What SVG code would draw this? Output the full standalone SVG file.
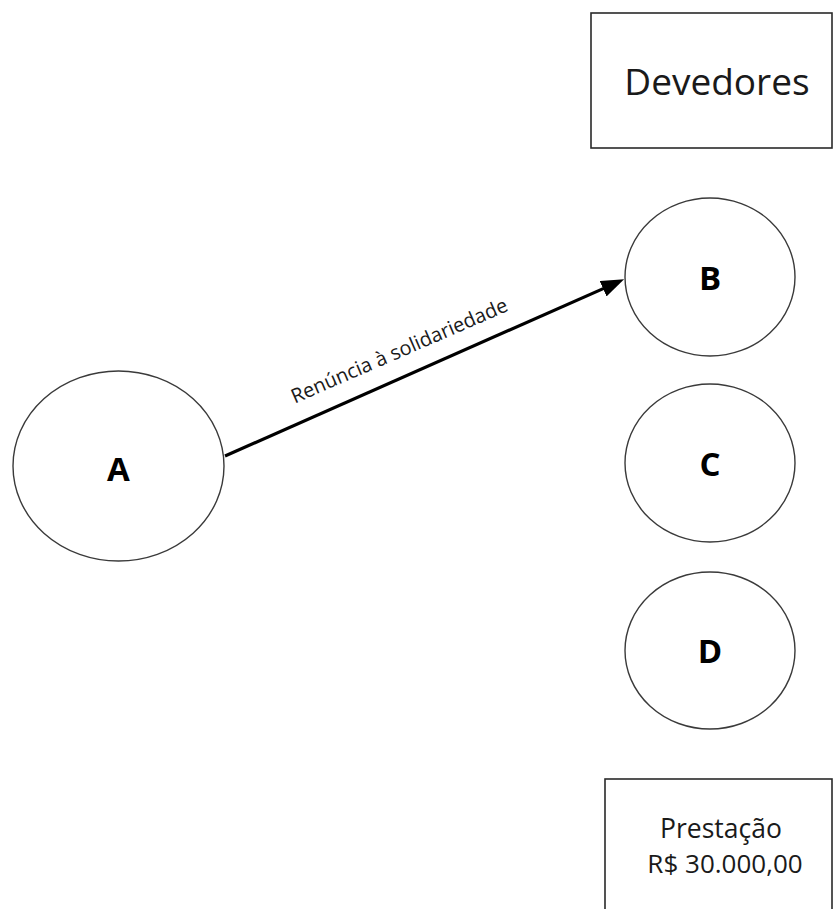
<svg xmlns="http://www.w3.org/2000/svg" width="833" height="909" viewBox="0 0 833 909">
  <style>
    .box { fill: #ffffff; stroke: #2a2a2a; stroke-width: 1.6; }
    .node { fill: #ffffff; stroke: #3a3a3a; stroke-width: 1.4; }
    .label { font-family: "Open Sans", "Liberation Sans", sans-serif; fill: #1a1a1a; text-anchor: middle; }
    .letter { font-family: "Open Sans", "Liberation Sans", sans-serif; font-weight: bold; font-size: 33px; fill: #000000; text-anchor: middle; }
    .edge { fill: none; stroke: #000000; stroke-width: 3.2; }
  </style>
  <defs>
    <marker id="arrowhead" markerUnits="userSpaceOnUse" markerWidth="23" markerHeight="17" refX="15" refY="8.5" orient="auto">
      <path d="M0,0 L23,8.5 L0,17 z" fill="#000000"/>
    </marker>
  </defs>

  <rect width="833" height="909" fill="#ffffff"/>

  <!-- header box -->
  <g id="devedores">
    <rect class="box" x="591" y="13" width="241" height="135"/>
    <text class="label" x="717" y="95" font-size="37">Devedores</text>
  </g>

  <!-- creditor -->
  <g id="node-a">
    <ellipse class="node" cx="118.5" cy="466" rx="105.5" ry="95"/>
    <text class="letter" x="118.5" y="481">A</text>
  </g>

  <!-- debtors -->
  <g id="node-b">
    <ellipse class="node" cx="710" cy="277" rx="85" ry="79"/>
    <text class="letter" x="710" y="290">B</text>
  </g>
  <g id="node-c">
    <ellipse class="node" cx="710" cy="463" rx="85" ry="79"/>
    <text class="letter" x="710" y="476">C</text>
  </g>
  <g id="node-d">
    <ellipse class="node" cx="710" cy="650.5" rx="85" ry="78.5"/>
    <text class="letter" x="710" y="663">D</text>
  </g>

  <!-- amount box -->
  <g id="prestacao">
    <rect class="box" x="605" y="779" width="227" height="140"/>
    <text class="label" x="721" y="838" font-size="26.5">Prestação</text>
    <text class="label" x="725" y="873" font-size="26">R$ 30.000,00</text>
  </g>

  <!-- connectors -->
  <g id="connectors">
    <path class="edge" d="M225,456 L616.8,282.6" marker-end="url(#arrowhead)"/>
    <text class="label" font-size="20" transform="translate(402,357) rotate(-23.5)" x="0" y="0">Renúncia à solidariedade</text>
  </g>
</svg>
